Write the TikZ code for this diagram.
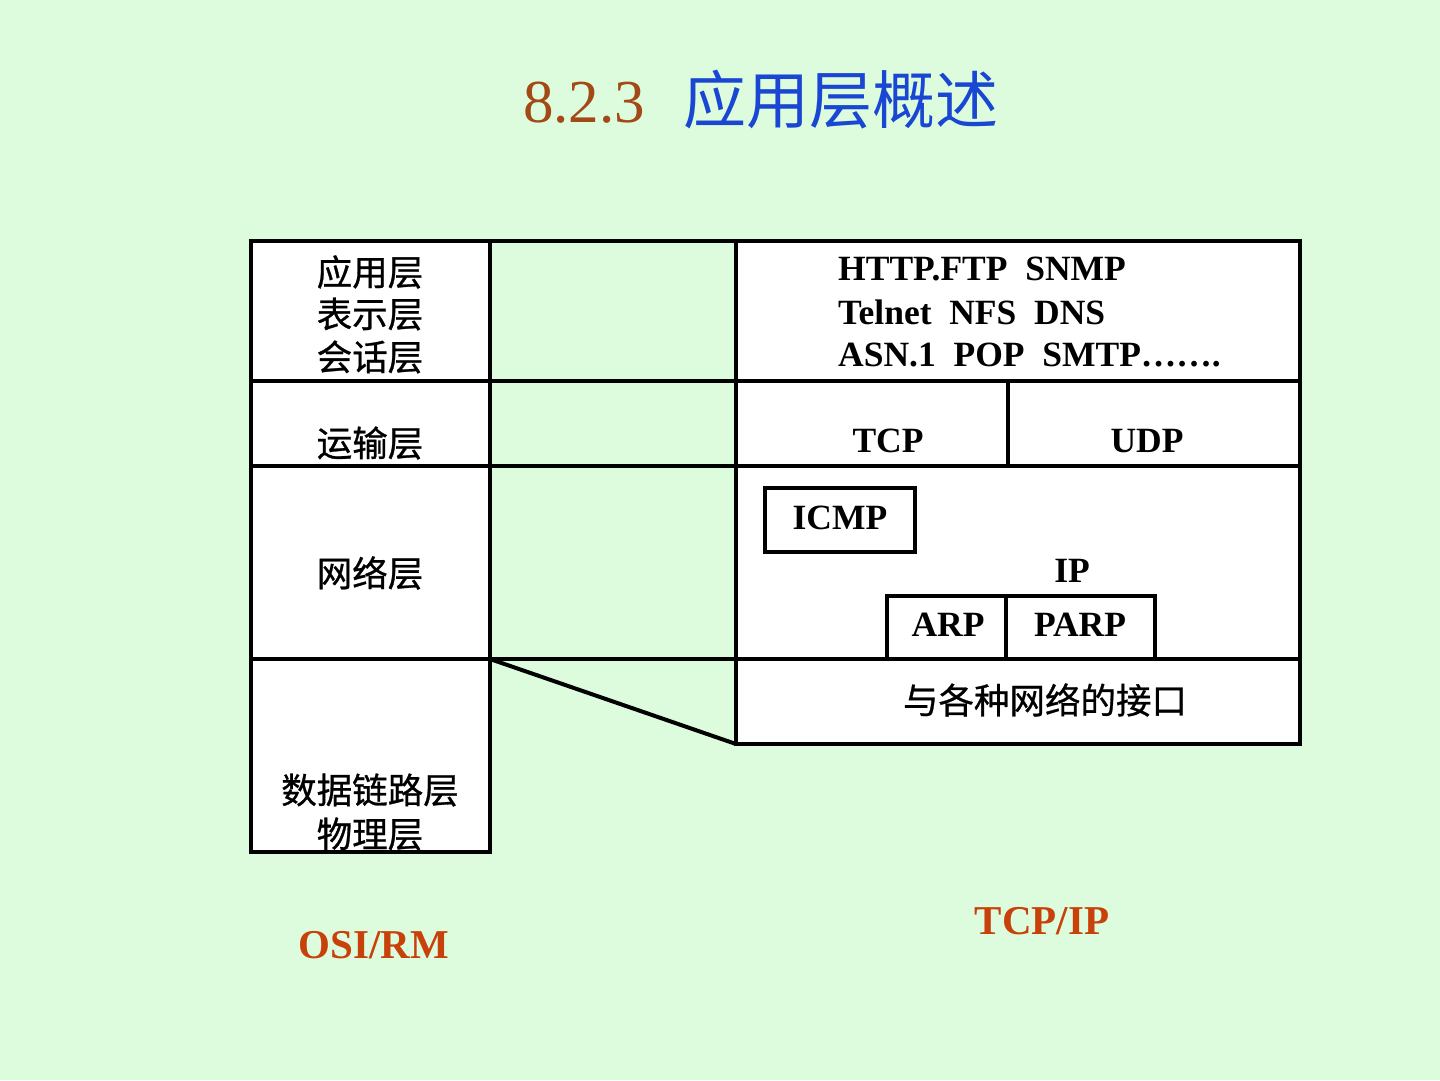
\documentclass[tikz,border=0pt]{standalone}
\usepackage{fontspec}
\setmainfont{Liberation Serif}
\newfontfamily\cjk{Noto Sans CJK SC}
\newfontfamily\cjkb[FakeBold=0.8]{Noto Sans CJK SC}
\definecolor{bgc}{RGB}{221,252,221}
\definecolor{numc}{RGB}{163,73,22}
\definecolor{ttlc}{RGB}{25,70,210}
\definecolor{labc}{RGB}{200,65,10}
\begin{document}
\begin{tikzpicture}[x=1pt,y=-1pt,
  box/.style={draw=black,fill=white,line width=4pt,outer sep=0pt,inner sep=0pt,anchor=north west},
  link/.style={draw=black,line width=4pt},
  en/.style={font=\fontsize{35.5}{42}\selectfont\bfseries,inner sep=0pt},
  zh/.style={font=\fontsize{35.5}{42}\selectfont\cjkb,inner sep=0pt},
  lab/.style={font=\fontsize{41}{48}\selectfont\bfseries,text=labc,inner sep=0pt,anchor=base},
]
\fill[bgc] (0,0) rectangle (1440,1080);
\useasboundingbox (0,0) rectangle (1440,1080);
% title
\node[font=\fontsize{61}{70}\selectfont,text=numc,inner sep=0pt,anchor=base west] (tnum) at (523,122) {8.2.3};
\node[font=\fontsize{63}{72}\selectfont\cjk,text=ttlc,inner sep=0pt,anchor=base west] (ttl) at (683,123) {应用层概述};
% OSI boxes
\node[box,minimum width=239pt,minimum height=140pt] (osiA) at (251,241) {};
\node[box,minimum width=239pt,minimum height=85pt] (osiT) at (251,381) {};
\node[box,minimum width=239pt,minimum height=193pt] (osiN) at (251,466) {};
\node[box,minimum width=239pt,minimum height=193pt] (osiD) at (251,659) {};
% TCP/IP boxes
\node[box,minimum width=564pt,minimum height=140pt] (tA) at (736,241) {};
\node[box,minimum width=272pt,minimum height=85pt] (tTCP) at (736,381) {};
\node[box,minimum width=292pt,minimum height=85pt] (tUDP) at (1008,381) {};
\node[box,minimum width=564pt,minimum height=193pt] (tN) at (736,466) {};
\node[box,minimum width=564pt,minimum height=85pt] (tL) at (736,659) {};
\node[box,minimum width=150pt,minimum height=64pt] (icmp) at (765,488) {};
\node[box,minimum width=119pt,minimum height=63pt] (arp) at (887,596) {};
\node[box,minimum width=149pt,minimum height=63pt] (parp) at (1006,596) {};
% connectors
\draw[link] (osiA.north east) -- (tA.north west);
\draw[link] (osiA.south east) -- (tA.south west);
\draw[link] (osiT.south east) -- (tN.north west);
\draw[link] (osiN.south east) -- (tL.north west);
\draw[link] (osiN.south east) -- (tL.south west);
% OSI texts
\node[zh] (z1) at (370,272) {应用层};
\node[zh] (z2) at (370,314) {表示层};
\node[zh] (z3) at (370,357) {会话层};
\node[zh] (z4) at (370,443) {运输层};
\node[zh] (z5) at (370,573) {网络层};
\node[zh] (z6) at (370,790) {数据链路层};
\node[zh] (z7) at (370,834) {物理层};
% TCP/IP texts
\node[en,anchor=base west] (p1) at (838,280) {HTTP.FTP\ \ SNMP};
\node[en,anchor=base west] (p2) at (838,324) {Telnet\ \ NFS\ \ DNS};
\node[en,anchor=base west] (p3) at (838,366) {ASN.1\ \ POP\ \ SMTP…….};
\node[en,anchor=base] (tcpt) at (888,452) {TCP};
\node[en,anchor=base] (udpt) at (1147,452) {UDP};
\node[en,anchor=base] (icmpt) at (840,529) {ICMP};
\node[en,anchor=base] (ipt) at (1072,582) {IP};
\node[en,anchor=base] (arpt) at (948,636) {ARP};
\node[en,anchor=base] (parpt) at (1080,636) {PARP};
\node[zh] (ifc) at (1045,700) {与各种网络的接口};
% labels
\node[lab] (osil) at (374,958) {OSI/RM};
\node[lab] (tcpl) at (1042,934) {TCP/IP};
\end{tikzpicture}
\end{document}
